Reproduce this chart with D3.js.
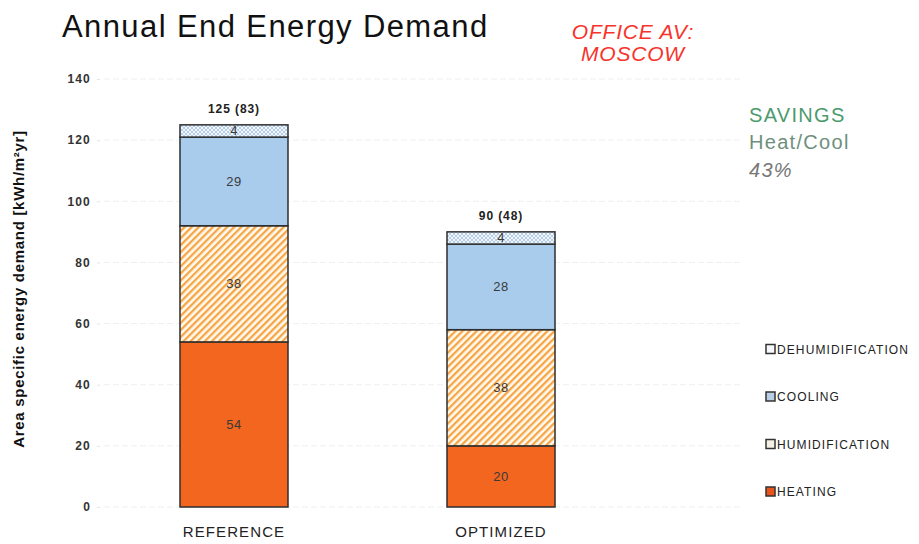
<!DOCTYPE html>
<html>
<head>
<meta charset="utf-8">
<script src="https://cdn.jsdelivr.net/npm/d3@7"></script>
<style>
  html, body { margin: 0; padding: 0; background: #fff; }
  svg { display: block; font-family: "Liberation Sans", Arial, Helvetica, sans-serif; }
</style>
</head>
<body>
<svg id="chart" width="919" height="544"></svg>
<script>
// Data: annual end energy demand per building variant [kWh/m²yr]
const categories = ["REFERENCE", "OPTIMIZED"];
const seriesNames = ["HEATING", "HUMIDIFICATION", "COOLING", "DEHUMIDIFICATION"];
const heating = [54, 20];
const humidification = [38, 38];
const cooling = [29, 28];
const dehumidification = [4, 4];
const yTicks = [0, 20, 40, 60, 80, 100, 120, 140];
const savingsLines = ["SAVINGS", "Heat/Cool", "43%"];

const seriesValues = [heating, humidification, cooling, dehumidification];

const svg = d3.select("#chart");

// Fill patterns
const defs = svg.append("defs");
const hatch = defs.append("pattern")
  .attr("id", "hatchOrange").attr("patternUnits", "userSpaceOnUse")
  .attr("width", 5).attr("height", 5)
  .attr("patternTransform", "rotate(45)");
hatch.append("rect").attr("width", 5).attr("height", 5).attr("fill", "#fffaf0");
hatch.append("rect").attr("width", 2.3).attr("height", 5).attr("fill", "#f6a647");

const dots = defs.append("pattern")
  .attr("id", "dotsBlue").attr("patternUnits", "userSpaceOnUse")
  .attr("width", 4).attr("height", 4);
dots.append("rect").attr("width", 4).attr("height", 4).attr("fill", "#f4f8fc");
dots.append("path").attr("d", "M0,0L4,4M4,0L0,4").attr("stroke", "#b4cde8").attr("stroke-width", 1);

const fills = {
  HEATING: "#f3661f",
  HUMIDIFICATION: "url(#hatchOrange)",
  COOLING: "#a9cced",
  DEHUMIDIFICATION: "url(#dotsBlue)"
};
const legendFills = {
  HEATING: "#e8541c",
  HUMIDIFICATION: "#f4f0e6",
  COOLING: "#b8cfe6",
  DEHUMIDIFICATION: "#f6f8fb"
};

// Scales
const y = d3.scaleLinear().domain([0, 140]).range([507, 79]);
const x = d3.scaleBand().domain(categories).range([100, 635])
  .paddingInner(0.5955).paddingOuter(0.2996);

// Grid lines
svg.append("g").selectAll("line").data(yTicks).join("line")
  .attr("x1", 104).attr("x2", 742)
  .attr("y1", d => y(d)).attr("y2", d => y(d))
  .attr("stroke", "#efefef").attr("stroke-width", 1)
  .attr("stroke-dasharray", "6,3");

// Y axis
const yAxis = d3.axisLeft(y).tickValues(yTicks).tickSize(3).tickPadding(6);
const gy = svg.append("g").attr("transform", "translate(100,0)").call(yAxis);
gy.select(".domain").remove();
gy.selectAll(".tick line").attr("stroke", "#e4e4e4");
gy.selectAll(".tick text")
  .attr("font-size", 12).attr("font-weight", "bold").attr("fill", "#333")
  .attr("letter-spacing", 1.2)
  .attr("font-family", "'Liberation Sans', Arial, sans-serif");

svg.append("text")
  .attr("transform", `translate(24,${y(70) - 4}) rotate(-90)`)
  .attr("text-anchor", "middle")
  .attr("font-size", 15).attr("font-weight", "bold").attr("fill", "#111")
  .attr("letter-spacing", 0.7)
  .text("Area specific energy demand [kWh/m²yr]");

// Stacked bars
const rows = categories.map((c, i) => {
  const r = { category: c };
  seriesNames.forEach((s, k) => { r[s] = seriesValues[k][i]; });
  return r;
});
const stacked = d3.stack().keys(seriesNames)(rows);

const gBars = svg.append("g");
stacked.forEach(layer => {
  const key = layer.key;
  gBars.append("g").selectAll("rect").data(layer).join("rect")
    .attr("x", d => x(d.data.category))
    .attr("width", x.bandwidth())
    .attr("y", d => y(d[1]))
    .attr("height", d => y(d[0]) - y(d[1]))
    .attr("fill", fills[key])
    .attr("stroke", "#2e2e2e").attr("stroke-width", 1.5);
  gBars.append("g").selectAll("text").data(layer).join("text")
    .attr("x", d => x(d.data.category) + x.bandwidth() / 2)
    .attr("y", d => (y(d[0]) + y(d[1])) / 2 + 4.5)
    .attr("text-anchor", "middle")
    .attr("font-size", 13).attr("letter-spacing", 0.4).attr("fill", "#3a3a3a")
    .text(d => d[1] - d[0]);
});

// Totals above bars: total (heating + cooling)
rows.forEach((r, i) => {
  const total = seriesNames.reduce((a, s) => a + r[s], 0);
  const hc = heating[i] + cooling[i];
  svg.append("text")
    .attr("x", x(r.category) + x.bandwidth() / 2)
    .attr("y", y(total) - 12)
    .attr("text-anchor", "middle")
    .attr("font-size", 12).attr("font-weight", "bold").attr("fill", "#222")
    .attr("letter-spacing", 0.9)
    .text(`${total} (${hc})`);
});

// Category labels
svg.append("g").selectAll("text").data(categories).join("text")
  .attr("x", d => x(d) + x.bandwidth() / 2)
  .attr("y", 537)
  .attr("text-anchor", "middle")
  .attr("font-size", 15).attr("letter-spacing", 1.1).attr("fill", "#222")
  .text(d => d);

// Title
svg.append("text")
  .attr("x", 62).attr("y", 37)
  .attr("font-size", 31).attr("letter-spacing", 1.4).attr("fill", "#111")
  .text("Annual End Energy Demand");

// Location label
const loc = svg.append("text")
  .attr("text-anchor", "middle")
  .attr("font-size", 21).attr("letter-spacing", 0.8)
  .attr("font-style", "italic").attr("fill", "#f8332b");
loc.append("tspan").attr("x", 633).attr("y", 39).text("OFFICE AV:");
loc.append("tspan").attr("x", 633).attr("y", 61).text("MOSCOW");

// Savings note
const sav = svg.append("text").attr("font-size", 20).attr("letter-spacing", 1.3);
sav.append("tspan").attr("x", 749).attr("y", 122).attr("fill", "#4c9a6e").text(savingsLines[0]);
sav.append("tspan").attr("x", 749).attr("y", 149).attr("fill", "#6e8f7c").text(savingsLines[1]);
sav.append("tspan").attr("x", 749).attr("y", 177).attr("fill", "#777").attr("font-style", "italic").text(savingsLines[2]);

// Legend (top to bottom: dehumidification ... heating)
const legendOrder = seriesNames.slice().reverse();
const lg = svg.append("g").selectAll("g").data(legendOrder).join("g")
  .attr("transform", (d, i) => `translate(766,${349 + i * 47.5})`);
lg.append("rect")
  .attr("x", 0).attr("y", -4.5).attr("width", 9).attr("height", 9)
  .attr("fill", d => legendFills[d]).attr("stroke", "#333").attr("stroke-width", 1.5);
lg.append("text")
  .attr("x", 11).attr("y", 4.5)
  .attr("font-size", 12).attr("letter-spacing", 1.1).attr("fill", "#222")
  .text(d => d);
</script>
</body>
</html>
